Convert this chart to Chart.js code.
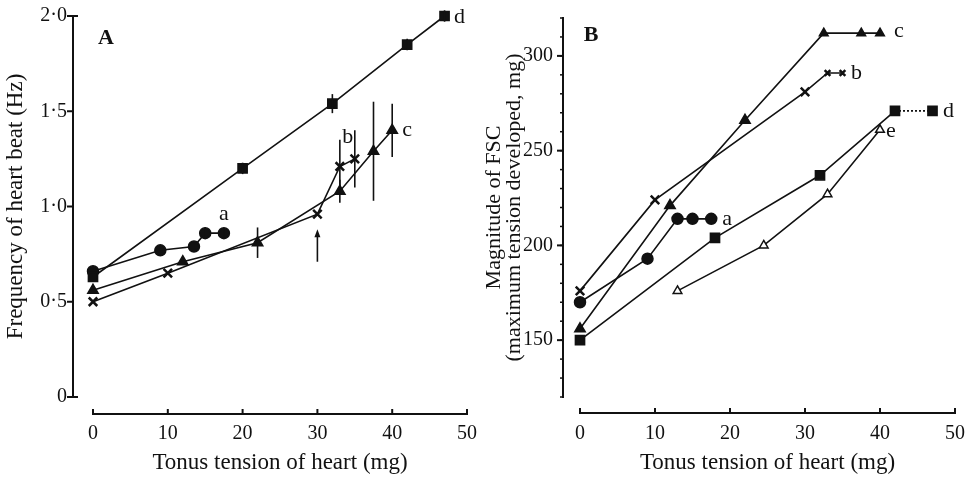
<!DOCTYPE html>
<html>
<head>
<meta charset="utf-8">
<script src="https://cdn.jsdelivr.net/npm/chart.js@4.4.0/dist/chart.umd.min.js"></script>
<style>
  body { margin: 0; background: #fff; }
  .wrap { display: flex; width: 971px; height: 481px; }
  canvas { display: block; }
</style>
</head>
<body>
<div class="wrap">
  <canvas id="chartA" width="485" height="481"></canvas>
  <canvas id="chartB" width="486" height="481"></canvas>
</div>
<script>
// PANEL A - frequency of heart beat (Hz) against tonus tension (mg)
const tensA_a = [0, 9, 13.5, 15, 17.5];
const freqA_a = [0.66, 0.77, 0.79, 0.86, 0.86];
const errA_a  = [0, 0, 0, 0.03, 0.025];

const tensA_b = [0, 10, 30, 33, 35];
const freqA_b = [0.50, 0.65, 0.96, 1.21, 1.25];
const errA_b  = [0, 0, 0, 0.14, 0.15];

const tensA_c = [0, 12, 22, 33, 37.5, 40];
const freqA_c = [0.56, 0.71, 0.81, 1.08, 1.29, 1.40];
const errA_c  = [0, 0, 0.08, 0.06, 0.26, 0.14];

const tensA_d = [0, 20, 32, 42, 47];
const freqA_d = [0.63, 1.20, 1.54, 1.85, 2.00];
const errA_d  = [0, 0.03, 0.05, 0.03, 0.03];

// arrow drawn under curve b at 30 mg (x, from, to)
const arrowA = [30, 0.71, 0.88];

// PANEL B - magnitude of FSC (mg) against tonus tension (mg)
const tensB_a = [0, 9, 13, 15, 17.5];
const fscB_a  = [170, 193, 214, 214, 214];

const tensB_b = [0, 10, 30, 33, 35];
const fscB_b  = [176, 224, 281, 291, 291];

const tensB_c = [0, 12, 22, 32.5, 37.5, 40];
const fscB_c  = [156, 221, 266, 312, 312, 312];

const tensB_d = [0, 18, 32, 42, 47];
const fscB_d  = [150, 204, 237, 271, 271];

const tensB_e = [13, 24.5, 33, 40];
const fscB_e  = [176, 200, 227, 261];

const xTicks = [0, 10, 20, 30, 40, 50];
const yTicksA = [0, 0.5, 1.0, 1.5, 2.0];
const yTicksB = [150, 200, 250, 300];

const FONT = "'Liberation Serif', 'DejaVu Serif', serif";
const INK = '#111';

function pts(xs, ys) {
  return xs.map((v, i) => ({ x: v, y: ys[i] }));
}

// DRAW THE DETACHED AXES (y axis left of the plot, x axis below it)
const offsetAxes = {
  id: 'offsetAxes',
  afterDraw(chart, args, opts) {
    const { ctx, chartArea: ca, scales: { x, y } } = chart;
    const ax = ca.left - opts.yGap;
    const ay = ca.bottom + opts.xGap;
    ctx.save();
    ctx.strokeStyle = INK;
    ctx.lineWidth = 2;
    const seg = (x1, y1, x2, y2) => {
      ctx.beginPath(); ctx.moveTo(x1, y1); ctx.lineTo(x2, y2); ctx.stroke();
    };
    seg(ax, ca.top - 1, ax, ca.bottom + 1);
    if (opts.feet) {
      seg(ax - 1, ca.top, ax + 5, ca.top);
      seg(ax - 1, ca.bottom, ax + 5, ca.bottom);
    }
    if (opts.minorStep) {
      ctx.lineWidth = 1.5;
      for (let v = y.min; v <= y.max; v += opts.minorStep) {
        const py = y.getPixelForValue(v);
        seg(ax - 3, py, ax, py);
      }
      ctx.lineWidth = 2;
    }
    y.ticks.forEach(t => {
      const py = y.getPixelForValue(t.value);
      seg(ax - 6, py, ax, py);
    });
    seg(ca.left - 1, ay, ca.right + 1, ay);
    x.ticks.forEach(t => {
      const px = x.getPixelForValue(t.value);
      seg(px, ay + 1, px, ay - 5);
    });
    ctx.restore();
  }
};

// ERROR BARS, CURVE LETTERS, PANEL LETTER, ARROW
const marks = {
  id: 'marks',
  afterDatasetsDraw(chart, args, opts) {
    const { ctx, chartArea: ca, scales: { x, y } } = chart;
    ctx.save();
    ctx.strokeStyle = INK;
    ctx.fillStyle = INK;
    ctx.lineWidth = 1.6;
    chart.data.datasets.forEach(ds => {
      if (ds.err) {
        ds.data.forEach((p, i) => {
          const e = ds.err[i];
          if (!e) return;
          const px = x.getPixelForValue(p.x);
          ctx.beginPath();
          ctx.moveTo(px, y.getPixelForValue(p.y - e));
          ctx.lineTo(px, y.getPixelForValue(p.y + e));
          ctx.stroke();
        });
      }
      if (ds.tag) {
        const last = ds.data[ds.data.length - 1];
        ctx.font = '22px ' + FONT;
        ctx.textAlign = 'center';
        ctx.textBaseline = 'middle';
        ctx.fillText(ds.tag, x.getPixelForValue(last.x) + ds.tagOffset[0], y.getPixelForValue(last.y) + ds.tagOffset[1]);
      }
    });
    if (opts.arrow) {
      const [ax, a0, a1] = opts.arrow;
      const px = x.getPixelForValue(ax);
      const p0 = y.getPixelForValue(a0), p1 = y.getPixelForValue(a1);
      ctx.beginPath(); ctx.moveTo(px, p0); ctx.lineTo(px, p1 + 4); ctx.stroke();
      ctx.beginPath();
      ctx.moveTo(px, p1); ctx.lineTo(px - 3, p1 + 8); ctx.lineTo(px + 3, p1 + 8);
      ctx.closePath(); ctx.fill();
    }
    if (opts.panel) {
      ctx.font = 'bold 22px ' + FONT;
      ctx.textAlign = 'center';
      ctx.textBaseline = 'middle';
      ctx.fillText(opts.panel, ca.left + opts.panelAt[0], ca.top + opts.panelAt[1]);
    }
    ctx.restore();
  }
};

function lineSet(data, style, extra) {
  return Object.assign({
    data: data,
    showLine: true,
    clip: false,
    borderColor: INK,
    borderWidth: 1.6,
    backgroundColor: INK,
    pointStyle: style,
    pointRadius: 5.5,
    pointBorderColor: INK,
    pointBackgroundColor: INK,
    pointBorderWidth: 1.5
  }, extra || {});
}

// fixed box sizes so the plot area lands where the original has it
function baseOptions(yMin, yMax, yTitle, yTitleStyle, yTickFmt, yTickList, box, tickPadY) {
  return {
    responsive: false,
    animation: false,
    layout: { autoPadding: false, padding: { left: 0, right: box.right, top: box.top, bottom: 4 } },
    plugins: { legend: { display: false }, tooltip: { enabled: false } },
    scales: {
      x: {
        type: 'linear',
        min: 0, max: 50,
        afterBuildTicks: s => { s.ticks = xTicks.map(v => ({ value: v })); },
        afterFit: s => { s.height = box.xHeight; s.paddingLeft = 0; s.paddingRight = 0; },
        grid: { display: false, drawTicks: false },
        border: { display: false },
        ticks: { color: INK, font: { family: FONT, size: 20 }, padding: 25, maxRotation: 0 },
        title: { display: true, text: 'Tonus tension of heart (mg)', color: INK,
                 font: { family: FONT, size: 23, lineHeight: 1.0 }, padding: { top: 8, bottom: 3 } }
      },
      y: {
        type: 'linear',
        min: yMin, max: yMax,
        afterBuildTicks: s => { s.ticks = yTickList.map(v => ({ value: v })); },
        afterFit: s => { s.width = box.yWidth; s.paddingTop = 0; s.paddingBottom = 0; },
        grid: { display: false, drawTicks: false },
        border: { display: false },
        ticks: { color: INK, font: { family: FONT, size: 20 }, padding: tickPadY, callback: yTickFmt },
        title: Object.assign({ display: true, text: yTitle, color: INK }, yTitleStyle)
      }
    }
  };
}

// PANEL A
const optsA = baseOptions(0, 2.0, 'Frequency of heart beat (Hz)',
  { font: { family: FONT, size: 23, lineHeight: 1.0 }, padding: { top: 4, bottom: 4 } },
  v => v === 0 ? '0' : v.toFixed(1).replace('.', '\u00b7'), yTicksA,
  { right: 18, top: 16, yWidth: 93, xHeight: 80 }, 26);
optsA.plugins.offsetAxes = { yGap: 20, xGap: 17, feet: true };
optsA.plugins.marks = { arrow: arrowA, panel: 'A', panelAt: [13, 22] };

new Chart(document.getElementById('chartA'), {
  type: 'scatter',
  data: {
    datasets: [
      lineSet(pts(tensA_d, freqA_d), 'rect', { pointRadius: 6.5, err: errA_d, tag: 'd', tagOffset: [15, 1] }),
      lineSet(pts(tensA_a, freqA_a), 'circle', { err: errA_a, tag: 'a', tagOffset: [0, -19] }),
      lineSet(pts(tensA_c, freqA_c), 'triangle', { pointRadius: 6, err: errA_c, tag: 'c', tagOffset: [15, 0] }),
      lineSet(pts(tensA_b, freqA_b), 'crossRot', { pointRadius: 6, pointBorderWidth: 2.5, err: errA_b, tag: 'b', tagOffset: [-7, -22] })
    ]
  },
  options: optsA,
  plugins: [offsetAxes, marks]
});

// PANEL B
const optsB = baseOptions(120, 320, ['Magnitude of FSC', '(maximum tension developed, mg)'],
  { font: { family: FONT, size: 22, lineHeight: 0.88 }, padding: { top: 0, bottom: 0 } },
  v => String(v), yTicksB,
  { right: 16, top: 18, yWidth: 95, xHeight: 80 }, 27);
optsB.plugins.offsetAxes = { yGap: 17, xGap: 16, minorStep: 10 };
optsB.plugins.marks = { panel: 'B', panelAt: [11, 17] };

new Chart(document.getElementById('chartB'), {
  type: 'scatter',
  data: {
    datasets: [
      lineSet(pts(tensB_c, fscB_c), 'triangle', { pointRadius: [6, 6, 6, 5, 5, 5], tag: 'c', tagOffset: [19, -2] }),
      lineSet(pts(tensB_b, fscB_b), 'crossRot', { pointRadius: [6, 6, 6, 4, 4], pointBorderWidth: 2.5, tag: 'b', tagOffset: [14, 0] }),
      lineSet(pts(tensB_a, fscB_a), 'circle', { tag: 'a', tagOffset: [16, 0] }),
      lineSet(pts(tensB_d, fscB_d), 'rect', { pointRadius: 6.5, tag: 'd', tagOffset: [16, 0],
        segment: { borderDash: c => c.p0DataIndex === 3 ? [2, 2] : undefined } }),
      lineSet(pts(tensB_e, fscB_e), 'triangle', { pointRadius: 5, pointBackgroundColor: '#fff', tag: 'e', tagOffset: [11, 1] })
    ]
  },
  options: optsB,
  plugins: [offsetAxes, marks]
});
</script>
</body>
</html>
